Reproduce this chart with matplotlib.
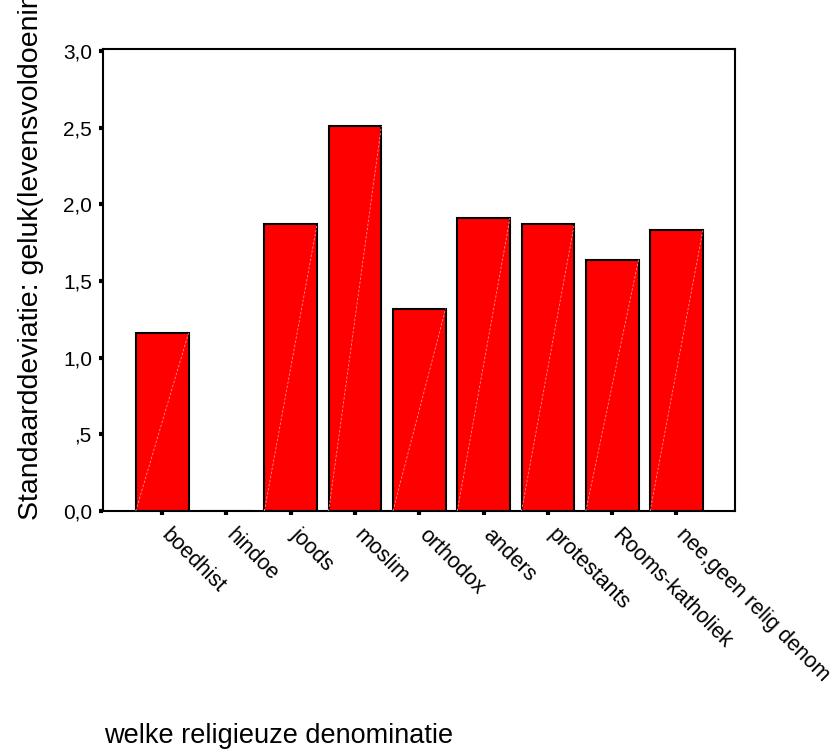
import matplotlib
matplotlib.use("Agg")
import matplotlib.pyplot as plt
import numpy as np

plt.rcParams['font.family'] = ['Liberation Sans', 'DejaVu Sans']

categories = ["boedhist", "hindoe", "joods", "moslim", "orthodox", "anders",
              "protestants", "Rooms-katholiek", "nee,geen relig denom"]
std_dev = [1.16, 0.0, 1.87, 2.51, 1.32, 1.91, 1.87, 1.64, 1.83]
y_ticks = [0.0, 0.5, 1.0, 1.5, 2.0, 2.5, 3.0]
y_tick_labels = ["0,0", ",5", "1,0", "1,5", "2,0", "2,5", "3,0"]


def main():
    fig = plt.figure(figsize=(8.34, 7.49), dpi=100)
    ax = fig.add_axes([103 / 834, 1 - 511 / 749, 632 / 834, 462 / 749])

    x = np.arange(len(categories))
    width = 0.82
    ax.bar(x, std_dev, width=width, color="#ff0000", edgecolor="black",
           linewidth=1.5, zorder=2)

    # faint diagonal streak inside each bar (SPSS rendering look)
    for xi, v in zip(x, std_dev):
        if v > 0:
            ax.plot([xi - width / 2, xi + width / 2], [0, v], color="#ff9090",
                    lw=0.6, ls=(0, (3, 2)), zorder=3)

    ax.set_xlim(-0.92, len(categories) - 1 + 0.91)
    ax.set_ylim(0, 3.013)

    ax.set_yticks(y_ticks)
    ax.set_yticklabels(y_tick_labels, fontsize=15)
    ax.set_xticks(x)
    ax.set_xticklabels([])
    ax.tick_params(direction="out", length=3, width=3, color="black", pad=5)

    for xi, lab in zip(x, categories):
        ax.annotate(lab, xy=(xi, 0), xycoords="data", xytext=(2, -15),
                    textcoords="offset points", rotation=-45,
                    rotation_mode="anchor", ha="left", va="center",
                    fontsize=15.5)

    for s in ax.spines.values():
        s.set_linewidth(1.5)

    fig.text(31 / 834, 1 - 520 / 749, "Standaarddeviatie: geluk(levensvoldoening",
             rotation=90, ha="center", va="bottom", fontsize=20.5)
    fig.text(104 / 834, 1 - 743 / 749, "welke religieuze denominatie",
             ha="left", va="baseline", fontsize=19.5)

    fig.savefig("out.png", dpi=100)


main()
